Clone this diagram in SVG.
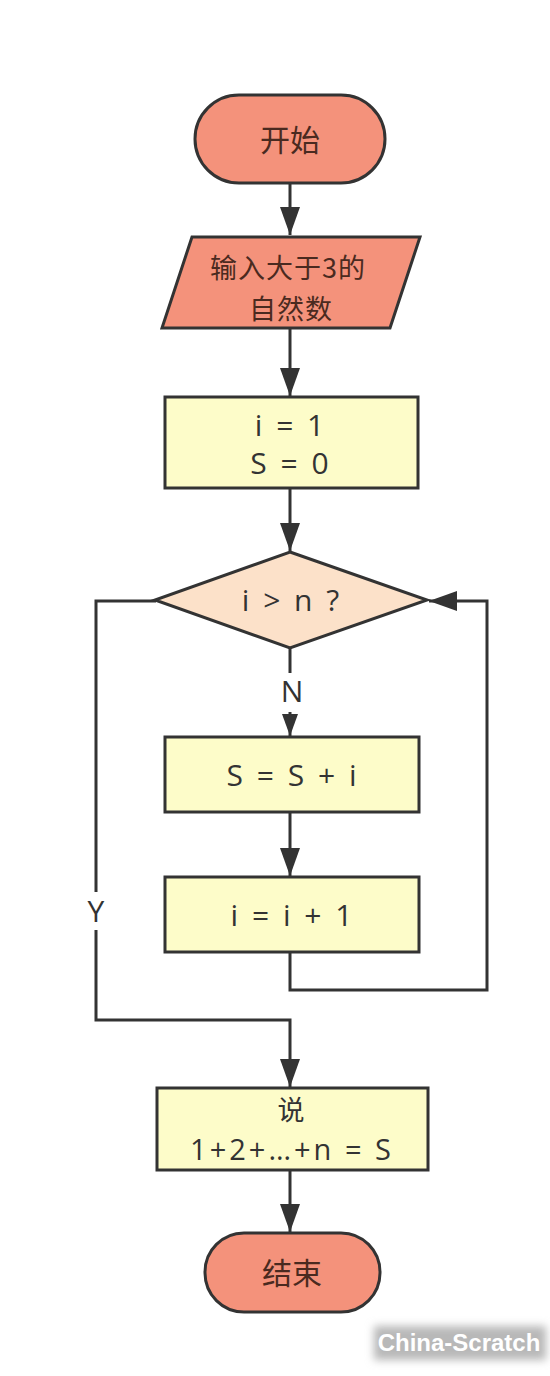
<svg xmlns="http://www.w3.org/2000/svg" width="550" height="1376" viewBox="0 0 550 1376">
<defs>
<marker id="ah" viewBox="0 0 28 20" refX="28" refY="10" markerWidth="28" markerHeight="20" markerUnits="userSpaceOnUse" orient="auto"><path d="M0,0 L28,10 L0,20 z" fill="#333"/></marker>
<marker id="ahs" viewBox="0 0 22 16" refX="22" refY="8" markerWidth="22" markerHeight="16" markerUnits="userSpaceOnUse" orient="auto"><path d="M0,0 L22,8 L0,16 z" fill="#333"/></marker>
<filter id="blur" x="-20%" y="-50%" width="140%" height="200%"><feGaussianBlur stdDeviation="4"/></filter>
<style>
.term{fill:#F4927B;stroke:#333;stroke-width:3}
.proc{fill:#FDFCC9;stroke:#333;stroke-width:3}
.dec{fill:#FCE1C9;stroke:#333;stroke-width:3}
.cn{font-family:"Noto Sans CJK SC","Noto Sans",sans-serif;font-size:30px;fill:#4a2a20;text-anchor:middle}
.lt{font-family:"Open Sans","Noto Sans CJK SC",sans-serif;font-size:30px;fill:#333;text-anchor:middle;letter-spacing:3px}
.lbl{font-family:"Open Sans",sans-serif;font-size:30px;fill:#333;text-anchor:middle}
.conn{fill:none;stroke:#333;stroke-width:3}
</style>
</defs>
<rect width="550" height="1376" fill="#fff"/>
<g id="connectors">
<path class="conn" d="M290,183 L290,235" marker-end="url(#ah)"/>
<path class="conn" d="M290,328 L290,396" marker-end="url(#ah)"/>
<path class="conn" d="M290,488 L290,551" marker-end="url(#ah)"/>
<path class="conn" d="M290,648 L290,673"/>
<path class="conn" d="M290,712 L290,736" marker-end="url(#ahs)"/>
<path class="conn" d="M290,812 L290,876" marker-end="url(#ah)"/>
<path class="conn" d="M290,952 L290,990 L487,990 L487,601 L429,601" marker-end="url(#ah)"/>
<path class="conn" d="M156,601 L96,601 L96,892"/>
<path class="conn" d="M96,930 L96,1020 L290,1020 L290,1087" marker-end="url(#ah)"/>
<path class="conn" d="M290,1170 L290,1232" marker-end="url(#ah)"/>
<text class="lbl" x="292" y="702">N</text>
<text class="lbl" x="96" y="922">Y</text>
</g>
<g id="start">
<rect class="term" x="195" y="95" width="190" height="88" rx="44" ry="44"/>
<text class="cn" x="290" y="151">开始</text>
</g>
<g id="input">
<polygon class="term" points="192,237 420,237 390,328 162,328"/>
<text class="cn" style="font-size:27px;letter-spacing:1px"><tspan x="288" y="278">输入大于3的</tspan><tspan x="291" y="319">自然数</tspan></text>
</g>
<g id="init">
<rect class="proc" x="165" y="397" width="253" height="91"/>
<text class="lt"><tspan x="291" y="436">i = 1</tspan><tspan x="291" y="474">S = 0</tspan></text>
</g>
<g id="cond">
<polygon class="dec" points="290,552 427,600 290,648 155,600"/>
<text class="lt" x="292" y="611">i &gt; n ?</text>
</g>
<g id="sum">
<rect class="proc" x="165" y="737" width="254" height="75"/>
<text class="lt" x="293" y="786">S = S + i</text>
</g>
<g id="inc">
<rect class="proc" x="165" y="877" width="254" height="75"/>
<text class="lt" x="293" y="926">i = i + 1</text>
</g>
<g id="say">
<rect class="proc" x="157" y="1088" width="271" height="82"/>
<text class="lt"><tspan x="291" y="1120" style="font-family:'Noto Sans CJK SC',sans-serif;font-size:27px;letter-spacing:0">说</tspan><tspan x="292" y="1160" style="font-size:29px">1+2+…+n = S</tspan></text>
</g>
<g id="end">
<rect class="term" x="205" y="1233" width="175" height="79" rx="39" ry="39"/>
<text class="cn" x="292" y="1284">结束</text>
</g>
<g id="watermark">
<rect x="374" y="1326" width="172" height="34" fill="#b8b8b8" filter="url(#blur)"/>
<text x="459" y="1351" font-family="Liberation Sans, Arial, sans-serif" font-weight="bold" font-size="24" fill="#fff" text-anchor="middle">China-Scratch</text>
</g>
</svg>
